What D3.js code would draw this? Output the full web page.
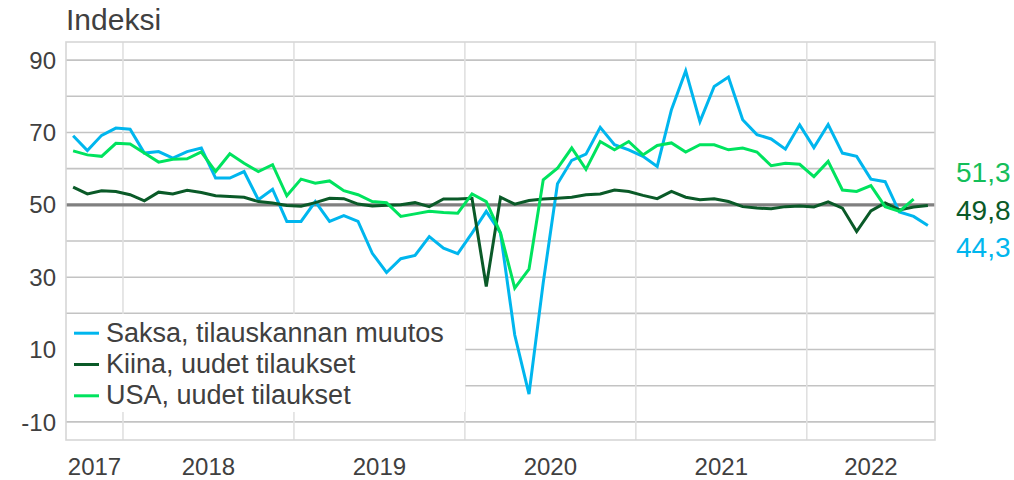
<!DOCTYPE html>
<html>
<head>
<meta charset="utf-8">
<script src="https://cdn.jsdelivr.net/npm/d3@7"></script>
<style>
  html, body { margin: 0; padding: 0; background: #fff; }
  svg { display: block; font-family: "Liberation Sans", Arial, sans-serif; }
</style>
</head>
<body>
<svg id="chart" width="1014" height="480"></svg>
<script>
const months = [
  "2017-09","2017-10","2017-11","2017-12",
  "2018-01","2018-02","2018-03","2018-04","2018-05","2018-06","2018-07","2018-08","2018-09","2018-10","2018-11","2018-12",
  "2019-01","2019-02","2019-03","2019-04","2019-05","2019-06","2019-07","2019-08","2019-09","2019-10","2019-11","2019-12",
  "2020-01","2020-02","2020-03","2020-04","2020-05","2020-06","2020-07","2020-08","2020-09","2020-10","2020-11","2020-12",
  "2021-01","2021-02","2021-03","2021-04","2021-05","2021-06","2021-07","2021-08","2021-09","2021-10","2021-11","2021-12",
  "2022-01","2022-02","2022-03","2022-04","2022-05","2022-06","2022-07","2022-08","2022-09"
];
const years = ["2017","2018","2019","2020","2021","2022"];
const yTickLabels = [90, 70, 50, 30, 10, -10];
const yGridValues = [90, 80, 70, 60, 50, 40, 30, 20, 10, 0, -10];

const saksa = [
  69.1, 65.0, 69.2, 71.2,
  70.9, 64.3, 64.7, 62.9, 64.7, 65.7, 57.4, 57.4, 59.2, 51.4, 54.3, 45.4,
  45.4, 50.9, 45.4, 47.0, 45.4, 36.6, 31.3, 35.1, 36.0, 41.2, 38.0, 36.5,
  42.2, 48.2, 42.2, 14.0, -2.3, 28.5, 55.8, 62.3, 64.0, 71.4, 66.6, 65.2,
  63.4, 60.6, 76.3, 87.0, 73.0, 82.7, 85.3, 73.5, 69.4, 68.2, 65.4, 72.1,
  65.8, 72.2, 64.3, 63.4, 57.1, 56.4, 48.0, 46.8, 44.3
];
const kiina = [
  54.9, 53.0, 53.9, 53.7,
  52.8, 51.1, 53.5, 53.0, 54.0, 53.4, 52.5, 52.3, 52.1, 50.9, 50.5, 49.8,
  49.6, 50.6, 51.8, 51.7, 50.2, 49.7, 49.9, 50.0, 50.6, 49.5, 51.6, 51.6,
  51.8, 27.4, 52.1, 50.2, 51.2, 51.6, 51.8, 52.1, 52.8, 53.0, 54.1, 53.7,
  52.6, 51.7, 53.7, 52.1, 51.4, 51.7, 50.9, 49.5, 49.1, 48.9, 49.5, 49.7,
  49.4, 50.8, 49.1, 42.6, 48.3, 50.5, 48.6, 49.4, 49.8
];
const usa = [
  64.9, 63.8, 63.4, 67.0,
  66.8, 64.3, 61.8, 62.6, 62.7, 64.6, 59.2, 64.1, 61.5, 59.2, 61.1, 52.5,
  57.1, 56.0, 56.6, 53.9, 52.8, 50.9, 50.6, 46.8, 47.5, 48.2, 47.9, 47.7,
  53.0, 50.9, 42.2, 27.0, 32.2, 56.9, 60.1, 65.7, 59.8, 67.5, 65.2, 67.5,
  63.8, 66.4, 67.1, 64.6, 66.6, 66.6, 65.2, 65.7, 64.6, 60.8, 61.5, 61.2,
  57.8, 62.0, 54.1, 53.7, 55.3, 49.5, 48.2, 51.6, null
];

const seriesNames = ["Saksa, tilauskannan muutos", "Kiina, uudet tilaukset", "USA, uudet tilaukset"];
const seriesColors = ["#00B6EE", "#0A5A28", "#00E35E"];
const endLabels = ["51,3", "49,8", "44,3"];
const endLabelColors = ["#14BE5A", "#0A5A28", "#00B6EE"];

const svg = d3.select("#chart");
const L = 66, R = 935, T = 42, B = 440;
const textColor = "#404040";

const x = d3.scaleBand().domain(months).range([L, R]).padding(0);
const y = d3.scaleLinear().domain([-15, 95]).range([B, T]);
const cx = m => x(m) + x.bandwidth() / 2;

// horizontal gridlines
svg.append("g").selectAll("line").data(yGridValues).join("line")
  .attr("x1", L).attr("x2", R)
  .attr("y1", d => y(d)).attr("y2", d => y(d))
  .attr("stroke", "#c3c3c3").attr("stroke-width", 1.6);

// vertical year gridlines
const yearStarts = years.slice(1).map(yr => yr + "-01");
svg.append("g").selectAll("line").data(yearStarts).join("line")
  .attr("x1", d => x(d)).attr("x2", d => x(d))
  .attr("y1", T).attr("y2", B)
  .attr("stroke", "#e0e0e0").attr("stroke-width", 1.6);

// 50 line
svg.append("line")
  .attr("x1", L).attr("x2", R).attr("y1", y(50)).attr("y2", y(50))
  .attr("stroke", "#808080").attr("stroke-width", 3.2);

// legend box background
svg.append("rect").attr("x", L).attr("y", 314).attr("width", 465 - L).attr("height", 98)
  .attr("fill", "#fff");

// plot border
svg.append("rect").attr("x", L).attr("y", T).attr("width", R - L).attr("height", B - T)
  .attr("fill", "none").attr("stroke", "#d6d6d6").attr("stroke-width", 1.6);

// y tick labels
svg.append("g").selectAll("text").data(yTickLabels).join("text")
  .attr("x", 56).attr("y", d => y(d)).attr("dy", "0.36em")
  .attr("text-anchor", "end").attr("font-size", 24).attr("fill", textColor)
  .text(d => d);

// year labels
svg.append("g").selectAll("text").data(years).join("text")
  .attr("x", d => {
    const inYear = months.filter(m => m.startsWith(d));
    return (x(inYear[0]) + x(inYear[inYear.length - 1]) + x.bandwidth()) / 2;
  })
  .attr("y", 475).attr("text-anchor", "middle").attr("font-size", 24).attr("fill", textColor)
  .text(d => d);

// title
svg.append("text").attr("x", 66).attr("y", 30).attr("font-size", 30).attr("fill", textColor)
  .text("Indeksi");

// lines
const allSeries = [saksa, kiina, usa];
[0, 1, 2].forEach(i => {
  const line = d3.line()
    .defined(d => d != null)
    .x((d, j) => cx(months[j]))
    .y(d => y(d));
  svg.append("path").datum(allSeries[i])
    .attr("d", line)
    .attr("fill", "none")
    .attr("stroke", seriesColors[i])
    .attr("stroke-width", 3)
    .attr("stroke-linejoin", "miter");
});

// legend
const legendBase = [341.7, 373, 404.3];
seriesNames.forEach((name, i) => {
  svg.append("line").attr("x1", 74).attr("x2", 99)
    .attr("y1", legendBase[i] - 8.5).attr("y2", legendBase[i] - 8.5)
    .attr("stroke", seriesColors[i]).attr("stroke-width", 3);
  svg.append("text").attr("x", 106).attr("y", legendBase[i])
    .attr("font-size", 27).attr("fill", textColor).text(name);
});

// end labels
const endBase = [181.7, 220, 257.3];
endLabels.forEach((t, i) => {
  svg.append("text").attr("x", 956).attr("y", endBase[i])
    .attr("font-size", 28).attr("fill", endLabelColors[i]).text(t);
});
</script>
</body>
</html>
